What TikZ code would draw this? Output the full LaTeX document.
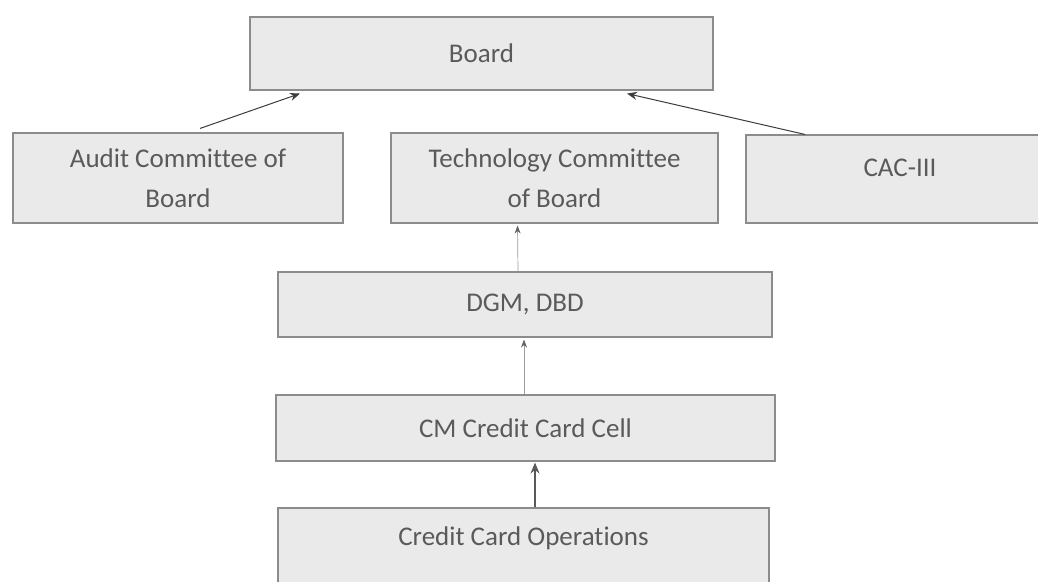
\documentclass[tikz,border=0pt]{standalone}
\usepackage{fontspec}
\setmainfont[Ligatures=NoCommon]{Carlito}
\usetikzlibrary{arrows.meta}
\definecolor{boxline}{HTML}{8C8C8C}
\definecolor{boxfill}{HTML}{EAEAEA}
\definecolor{txt}{HTML}{5A5A5A}
\definecolor{darkarr}{HTML}{3C3C3C}
\definecolor{lightarr}{HTML}{9A9A9A}
\begin{document}
\begin{tikzpicture}[x=1pt,y=-1pt,
  box/.style={draw=boxline, fill=boxfill, line width=1.1pt, inner sep=0pt, text=txt,
    font=\fontsize{27}{40}\selectfont, align=center},
  lbl/.style={inner sep=0pt, text=txt, font=\fontsize{27}{40}\selectfont, align=center},
  darkconn/.style={draw=darkarr, line width=1pt, -{Stealth[length=10pt,width=8pt]}},
  lightconn/.style={draw=lightarr, line width=0.7pt, -{Stealth[length=8pt,width=6pt,color=darkarr!80]}},
  midconn/.style={draw=darkarr!85, line width=1.2pt, -{Stealth[length=11pt,width=9pt]}}]
\fill[white] (0,0) rectangle (1038,581);
\useasboundingbox (0,0) rectangle (1038,581);

\node[box, minimum width=463pt, minimum height=73pt] (board) at (481.5,53.5) {Board};
\node[box, minimum width=330pt, minimum height=90pt] (audit) at (178,178) {Audit Committee of\\Board};
\node[box, minimum width=327pt, minimum height=90pt] (tech) at (554.5,178) {Technology Committee\\of Board};
\node[box, minimum width=308pt, minimum height=88pt] (cac) at (900,179) {};
\node[lbl] (cact) at (900,168) {CAC-III};
\node[box, minimum width=494pt, minimum height=65pt] (dgm) at (525,304.5) {DGM, DBD};
\node[box, minimum width=499pt, minimum height=66pt] (cm) at (525.5,428) {CM Credit Card Cell};
\node[box, minimum width=491pt, minimum height=100pt] (cco) at (523.5,558) {};
\node[lbl] (ccot) at (523.5,538) {Credit Card Operations};

\draw[darkconn] ([xshift=22pt,yshift=4pt]audit.north) -- ([xshift=-181.5pt,yshift=-3pt]board.south);
\draw[darkconn] ([xshift=-95pt,yshift=0pt]cac.north) -- ([xshift=145.5pt,yshift=-3pt]board.south);
\draw[lightconn] ([xshift=-7pt]dgm.north) -- ([xshift=-37pt,yshift=-2pt]tech.south);
\draw[lightconn] ([xshift=-1.5pt]cm.north) -- ([xshift=-1pt,yshift=-2pt]dgm.south);
\draw[midconn] ([xshift=11.5pt]cco.north) -- ([xshift=9.5pt,yshift=-1pt]cm.south);
\end{tikzpicture}
\end{document}
